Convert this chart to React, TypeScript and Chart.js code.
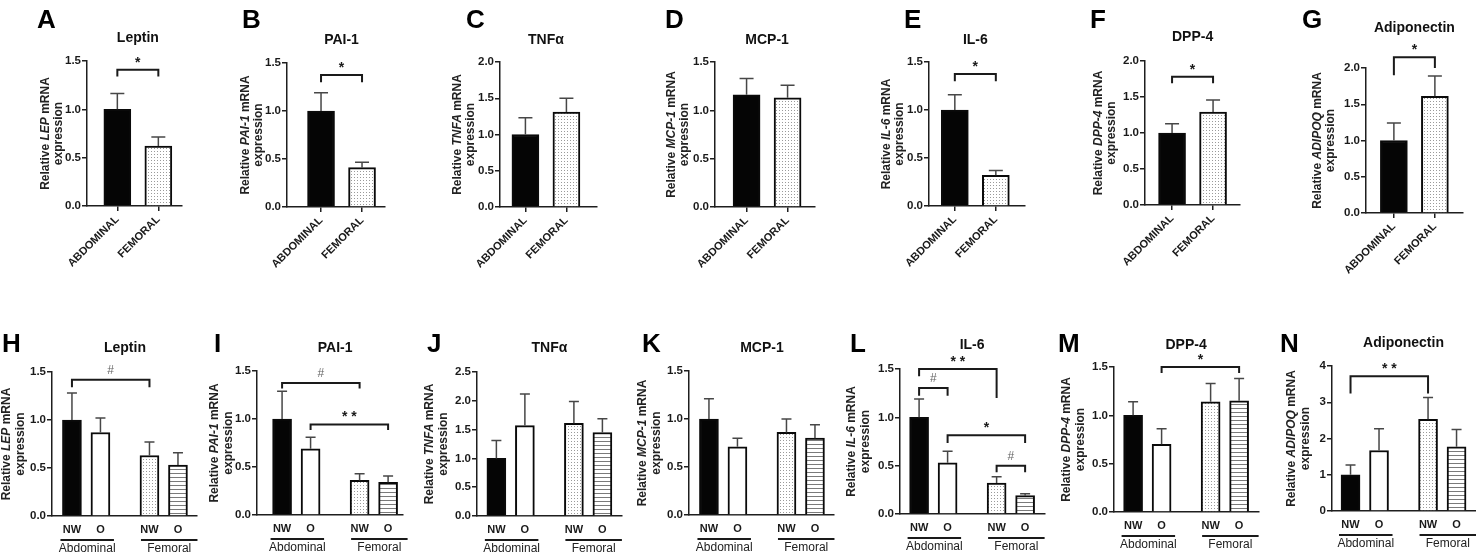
import React, { useEffect, useRef } from 'react';
import { Chart, registerables } from 'chart.js';

Chart.register(...registerables);

const FONT = "'Liberation Sans', Arial, Helvetica, sans-serif";

// ---------- categories / tick labels ----------
const depotCategories = ['ABDOMINAL', 'FEMORAL'];
const groupCategories = ['NW', 'O', 'NW', 'O'];
const groupNames = ['Abdominal', 'Femoral'];

// ---------- panels A–G (depot comparison): mean and SEM ----------
const leptinDepot = [1.0, 0.62];
const leptinDepotSem = [0.165, 0.095];
const pai1Depot = [1.0, 0.41];
const pai1DepotSem = [0.19, 0.055];
const tnfDepot = [1.0, 1.31];
const tnfDepotSem = [0.23, 0.19];
const mcp1Depot = [1.16, 1.13];
const mcp1DepotSem = [0.17, 0.13];
const il6Depot = [1.0, 0.32];
const il6DepotSem = [0.16, 0.05];
const dpp4Depot = [1.0, 1.29];
const dpp4DepotSem = [0.13, 0.17];
const adipoDepot = [1.0, 1.61];
const adipoDepotSem = [0.24, 0.28];

// ---------- panels H–N (NW / O within depot): mean and SEM ----------
const leptinGroup = [1.0, 0.87, 0.63, 0.53];
const leptinGroupSem = [0.28, 0.15, 0.14, 0.13];
const pai1Group = [1.0, 0.69, 0.36, 0.34];
const pai1GroupSem = [0.29, 0.12, 0.07, 0.065];
const tnfGroup = [1.0, 1.57, 1.61, 1.45];
const tnfGroupSem = [0.31, 0.55, 0.38, 0.24];
const mcp1Group = [1.0, 0.71, 0.86, 0.8];
const mcp1GroupSem = [0.21, 0.09, 0.14, 0.14];
const il6Group = [1.0, 0.53, 0.32, 0.19];
const il6GroupSem = [0.19, 0.12, 0.065, 0.02];
const dpp4Group = [1.0, 0.7, 1.14, 1.15];
const dpp4GroupSem = [0.14, 0.16, 0.19, 0.23];
const adipoGroup = [1.0, 1.67, 2.53, 1.77];
const adipoGroupSem = [0.27, 0.6, 0.6, 0.48];

// ---------- significance annotations (value units) ----------
const leptinDepotSig = [{ from: 0, to: 1, y: 1.41, legL: 1.34, legR: 1.34, label: '*' }];
const pai1DepotSig = [{ from: 0, to: 1, y: 1.375, legL: 1.3, legR: 1.3, label: '*' }];
const il6DepotSig = [{ from: 0, to: 1, y: 1.375, legL: 1.3, legR: 1.3, label: '*' }];
const dpp4DepotSig = [{ from: 0, to: 1, y: 1.78, legL: 1.69, legR: 1.69, label: '*' }];
const adipoDepotSig = [{ from: 0, to: 1, y: 2.15, legL: 1.9, legR: 2.0, label: '*' }];
const leptinGroupSig = [{ from: 0, to: 2, y: 1.42, legL: 1.34, legR: 1.34, label: '#' }];
const pai1GroupSig = [
  { from: 0, to: 2, y: 1.375, legL: 1.317, legR: 1.317, label: '#' },
  { from: 1, to: 3, y: 0.944, legL: 0.885, legR: 0.885, label: '* *' },
];
const il6GroupSig = [
  { from: 0, to: 2, y: 1.5, legL: 1.424, legR: 1.2, label: '* *' },
  { from: 0, to: 1, y: 1.303, legL: 1.224, legR: 1.224, label: '#' },
  { from: 1, to: 3, y: 0.814, legL: 0.734, legR: 0.734, label: '*' },
  { from: 2, to: 3, y: 0.5, legL: 0.431, legR: 0.431, label: '#' },
];
const dpp4GroupSig = [{ from: 1, to: 3, y: 1.5, legL: 1.437, legR: 1.437, label: '*' }];
const adipoGroupSig = [{ from: 0, to: 2, y: 3.72, legL: 3.24, legR: 3.24, label: '* *' }];

// ---------- axis slot positions ----------
const depotSlots = [0, 1];
const groupSlots = [0, 1, 2.72, 3.72];

type Sig = { from: number; to: number; y: number; legL: number; legR: number; label: string };
type Spec = {
  letter: string; title: string; gene: string; row: 'top' | 'bottom';
  cats: string[]; pos: number[]; values: number[]; sem: number[];
  fills: string[]; yMax: number; yStep: number; sig: Sig[];
};

const depotFills = ['black', 'dots'];
const groupFills = ['black', 'white', 'dots', 'stripes'];

const SPECS: Spec[] = [
  { letter: 'A', title: 'Leptin', gene: 'LEP', row: 'top', cats: depotCategories, pos: depotSlots, values: leptinDepot, sem: leptinDepotSem, fills: depotFills, yMax: 1.5, yStep: 0.5, sig: leptinDepotSig },
  { letter: 'B', title: 'PAI-1', gene: 'PAI-1', row: 'top', cats: depotCategories, pos: depotSlots, values: pai1Depot, sem: pai1DepotSem, fills: depotFills, yMax: 1.5, yStep: 0.5, sig: pai1DepotSig },
  { letter: 'C', title: 'TNFα', gene: 'TNFA', row: 'top', cats: depotCategories, pos: depotSlots, values: tnfDepot, sem: tnfDepotSem, fills: depotFills, yMax: 2.0, yStep: 0.5, sig: [] },
  { letter: 'D', title: 'MCP-1', gene: 'MCP-1', row: 'top', cats: depotCategories, pos: depotSlots, values: mcp1Depot, sem: mcp1DepotSem, fills: depotFills, yMax: 1.5, yStep: 0.5, sig: [] },
  { letter: 'E', title: 'IL-6', gene: 'IL-6', row: 'top', cats: depotCategories, pos: depotSlots, values: il6Depot, sem: il6DepotSem, fills: depotFills, yMax: 1.5, yStep: 0.5, sig: il6DepotSig },
  { letter: 'F', title: 'DPP-4', gene: 'DPP-4', row: 'top', cats: depotCategories, pos: depotSlots, values: dpp4Depot, sem: dpp4DepotSem, fills: depotFills, yMax: 2.0, yStep: 0.5, sig: dpp4DepotSig },
  { letter: 'G', title: 'Adiponectin', gene: 'ADIPOQ', row: 'top', cats: depotCategories, pos: depotSlots, values: adipoDepot, sem: adipoDepotSem, fills: depotFills, yMax: 2.0, yStep: 0.5, sig: adipoDepotSig },
  { letter: 'H', title: 'Leptin', gene: 'LEP', row: 'bottom', cats: groupCategories, pos: groupSlots, values: leptinGroup, sem: leptinGroupSem, fills: groupFills, yMax: 1.5, yStep: 0.5, sig: leptinGroupSig },
  { letter: 'I', title: 'PAI-1', gene: 'PAI-1', row: 'bottom', cats: groupCategories, pos: groupSlots, values: pai1Group, sem: pai1GroupSem, fills: groupFills, yMax: 1.5, yStep: 0.5, sig: pai1GroupSig },
  { letter: 'J', title: 'TNFα', gene: 'TNFA', row: 'bottom', cats: groupCategories, pos: groupSlots, values: tnfGroup, sem: tnfGroupSem, fills: groupFills, yMax: 2.5, yStep: 0.5, sig: [] },
  { letter: 'K', title: 'MCP-1', gene: 'MCP-1', row: 'bottom', cats: groupCategories, pos: groupSlots, values: mcp1Group, sem: mcp1GroupSem, fills: groupFills, yMax: 1.5, yStep: 0.5, sig: [] },
  { letter: 'L', title: 'IL-6', gene: 'IL-6', row: 'bottom', cats: groupCategories, pos: groupSlots, values: il6Group, sem: il6GroupSem, fills: groupFills, yMax: 1.5, yStep: 0.5, sig: il6GroupSig },
  { letter: 'M', title: 'DPP-4', gene: 'DPP-4', row: 'bottom', cats: groupCategories, pos: groupSlots, values: dpp4Group, sem: dpp4GroupSem, fills: groupFills, yMax: 1.5, yStep: 0.5, sig: dpp4GroupSig },
  { letter: 'N', title: 'Adiponectin', gene: 'ADIPOQ', row: 'bottom', cats: groupCategories, pos: groupSlots, values: adipoGroup, sem: adipoGroupSem, fills: groupFills, yMax: 4, yStep: 1, sig: adipoGroupSig },
];

// ---------- layout (page pixels) ----------
type Lay = { L: number; T: number; B: number; W: number; xMin: number; lx: number; ly: number; ty: number; yl: number };
const LAYOUT: Lay[] = [
  { L: 87, T: 61, B: 206, W: 95, xMin: -0.74, lx: 37, ly: 18, ty: 38, yl: 41 },
  { L: 287, T: 63, B: 207, W: 98, xMin: -0.83, lx: 242, ly: 18, ty: 40, yl: 41 },
  { L: 500, T: 62, B: 207, W: 97, xMin: -0.62, lx: 466, ly: 18, ty: 40, yl: 42 },
  { L: 715, T: 62, B: 207, W: 100, xMin: -0.77, lx: 665, ly: 18, ty: 40, yl: 43 },
  { L: 929, T: 62, B: 206, W: 96, xMin: -0.63, lx: 904, ly: 18, ty: 40, yl: 42 },
  { L: 1145, T: 61, B: 205, W: 95, xMin: -0.66, lx: 1090, ly: 18, ty: 37, yl: 46 },
  { L: 1366, T: 68, B: 213, W: 97, xMin: -0.68, lx: 1302, ly: 18, ty: 28, yl: 48 },
  { L: 52, T: 372, B: 516, W: 145, xMin: -0.7, lx: 2, ly: 342, ty: 348, yl: 45 },
  { L: 257, T: 371, B: 515, W: 146, xMin: -0.88, lx: 214, ly: 342, ty: 348, yl: 42 },
  { L: 477, T: 372, B: 516, W: 145, xMin: -0.68, lx: 427, ly: 342, ty: 348, yl: 47 },
  { L: 689, T: 371, B: 515, W: 145, xMin: -0.7, lx: 642, ly: 342, ty: 348, yl: 46 },
  { L: 900, T: 369, B: 514, W: 145, xMin: -0.67, lx: 850, ly: 342, ty: 345, yl: 48 },
  { L: 1114, T: 367, B: 512, W: 145, xMin: -0.67, lx: 1058, ly: 342, ty: 345, yl: 47 },
  { L: 1332, T: 366, B: 511, W: 145, xMin: -0.65, lx: 1280, ly: 342, ty: 343, yl: 40 },
];

const SLOT_PX = { top: 41, bottom: 28.5 };
const BAR_PX = { top: 27, bottom: 19 };
const CAP_PX = { top: 14, bottom: 10 };
const XH_PX = { top: 66, bottom: 32 };

const PAD_L = 72, PAD_T = 64, PAD_R = 16, PAD_B = 72;
const YW = 32;

const AXIS = '#1e1e1e';
const INK = '#1a1a1a';

function makeFill(kind: string, ctx: CanvasRenderingContext2D): any {
  if (kind === 'black') return '#050505';
  if (kind === 'white') return '#ffffff';
  const t = document.createElement('canvas');
  const g = t.getContext('2d') as CanvasRenderingContext2D;
  if (kind === 'dots') {
    t.width = 3; t.height = 3;
    g.fillStyle = '#ffffff'; g.fillRect(0, 0, 3, 3);
    g.fillStyle = '#9a9a9a'; g.fillRect(1, 1, 1, 1);
  } else {
    t.width = 4; t.height = 4;
    g.fillStyle = '#ffffff'; g.fillRect(0, 0, 4, 4);
    g.fillStyle = '#7a7a7a'; g.fillRect(0, 1, 4, 1);
  }
  return ctx.createPattern(t, 'repeat');
}

function drawRotatedRich(ctx: CanvasRenderingContext2D, parts: { t: string; it?: boolean }[], cx: number, cy: number, size: number) {
  ctx.save();
  ctx.translate(cx, cy);
  ctx.rotate(-Math.PI / 2);
  ctx.textBaseline = 'middle';
  ctx.textAlign = 'left';
  const fonts = parts.map((p) => `${p.it ? 'italic ' : ''}bold ${size}px ${FONT}`);
  const widths = parts.map((p, i) => { ctx.font = fonts[i]; return ctx.measureText(p.t).width; });
  const total = widths.reduce((a, b) => a + b, 0);
  let xx = -total / 2;
  parts.forEach((p, i) => {
    ctx.font = fonts[i];
    ctx.fillText(p.t, xx, 0);
    xx += widths[i];
  });
  ctx.restore();
}

function makeExtras(spec: Spec, lay: Lay, offX: number, offY: number) {
  const row = spec.row;
  return {
    id: 'extras',
    afterDraw(chart: any) {
      const ctx: CanvasRenderingContext2D = chart.ctx;
      const ca = chart.chartArea;
      const xs = chart.scales.x;
      const ys = chart.scales.y;
      const px = (i: number) => xs.getPixelForValue(spec.pos[i]);
      ctx.save();

      // error bars (upper SEM)
      ctx.strokeStyle = '#474747';
      ctx.lineWidth = 1.5;
      const cap = CAP_PX[row];
      spec.values.forEach((v, i) => {
        const cx = px(i);
        const y0 = ys.getPixelForValue(v);
        const y1 = ys.getPixelForValue(v + spec.sem[i]);
        ctx.beginPath();
        ctx.moveTo(cx, y0);
        ctx.lineTo(cx, y1);
        ctx.moveTo(cx - cap / 2, y1);
        ctx.lineTo(cx + cap / 2, y1);
        ctx.stroke();
      });

      // significance brackets
      spec.sig.forEach((s) => {
        const x1 = px(s.from), x2 = px(s.to);
        const yh = ys.getPixelForValue(s.y);
        ctx.strokeStyle = INK;
        ctx.lineWidth = 2;
        ctx.beginPath();
        ctx.moveTo(x1, ys.getPixelForValue(s.legL));
        ctx.lineTo(x1, yh);
        ctx.lineTo(x2, yh);
        ctx.lineTo(x2, ys.getPixelForValue(s.legR));
        ctx.stroke();
        ctx.textAlign = 'center';
        ctx.textBaseline = 'alphabetic';
        if (s.label === '#') {
          ctx.font = `12px ${FONT}`;
          ctx.fillStyle = '#666';
          ctx.fillText('#', (x1 + x2) / 2, yh - 6);
        } else {
          ctx.font = `bold 14px ${FONT}`;
          ctx.fillStyle = INK;
          ctx.fillText(s.label, (x1 + x2) / 2, yh - 3);
        }
      });

      // title centred over the bars
      const tx = (px(0) + px(spec.pos.length - 1)) / 2;
      ctx.fillStyle = '#111';
      ctx.font = `bold 14px ${FONT}`;
      ctx.textAlign = 'center';
      ctx.textBaseline = 'middle';
      ctx.fillText(spec.title, tx, lay.ty - offY);

      // panel letter
      ctx.font = `bold 26px ${FONT}`;
      ctx.textAlign = 'left';
      ctx.textBaseline = 'alphabetic';
      ctx.fillStyle = '#000';
      ctx.fillText(spec.letter, lay.lx - offX, lay.ly - offY + 9.5);

      // y-axis title (two lines, gene in italics)
      ctx.fillStyle = '#222';
      const cy = (ca.top + ca.bottom) / 2;
      const x1 = ca.left - lay.yl;
      const gap = row === 'top' ? 12.5 : 14;
      drawRotatedRich(ctx, [{ t: 'Relative ' }, { t: spec.gene, it: true }, { t: ' mRNA' }], x1, cy, 12);
      drawRotatedRich(ctx, [{ t: 'expression' }], x1 + gap, cy, 12);

      // group lines + labels (bottom row)
      if (row === 'bottom') {
        const hb = BAR_PX.bottom / 2;
        const ly = ca.bottom + 24;
        const groups = [
          { a: px(0) - hb - 2, b: px(1) + hb + 4, name: groupNames[0] },
          { a: px(2) - hb + 1, b: px(3) + hb + 10, name: groupNames[1] },
        ];
        groups.forEach((g) => {
          ctx.strokeStyle = INK;
          ctx.lineWidth = 2;
          ctx.beginPath();
          ctx.moveTo(g.a, ly);
          ctx.lineTo(g.b, ly);
          ctx.stroke();
          ctx.fillStyle = '#222';
          ctx.font = `12px ${FONT}`;
          ctx.textAlign = 'center';
          ctx.textBaseline = 'middle';
          ctx.fillText(g.name, (g.a + g.b) / 2, ly + 9);
        });
      }
      ctx.restore();
    },
  };
}

function Panel({ spec, lay }: { spec: Spec; lay: Lay }) {
  const ref = useRef<HTMLCanvasElement>(null);
  const cw = lay.W + PAD_L + PAD_R;
  const ch = lay.B - lay.T + PAD_T + PAD_B;
  const left = lay.L - PAD_L;
  const top = lay.T - PAD_T;

  useEffect(() => {
    const canvas = ref.current as HTMLCanvasElement;
    const ctx = canvas.getContext('2d') as CanvasRenderingContext2D;
    const isTop = spec.row === 'top';
    const XH = XH_PX[spec.row];
    const xMax = lay.xMin + lay.W / SLOT_PX[spec.row];
    const fills = spec.fills.map((f) => makeFill(f, ctx));
    const chart = new Chart(canvas, {
      type: 'bar',
      data: {
        datasets: [
          {
            data: spec.values.map((v, i) => ({ x: spec.pos[i], y: v })),
            backgroundColor: fills,
            borderColor: '#0a0a0a',
            borderWidth: 2,
            borderSkipped: 'start',
            barThickness: BAR_PX[spec.row],
          } as any,
        ],
      },
      options: {
        animation: false,
        responsive: false,
        devicePixelRatio: 1,
        events: [],
        layout: { padding: { left: PAD_L - YW, top: PAD_T, right: PAD_R, bottom: PAD_B - XH } },
        plugins: { legend: { display: false }, tooltip: { enabled: false }, title: { display: false } },
        scales: {
          x: {
            type: 'linear',
            min: lay.xMin,
            max: xMax,
            offset: false,
            afterBuildTicks: (s: any) => { s.ticks = spec.pos.map((v) => ({ value: v })); },
            afterFit: (s: any) => { s.height = XH; s.paddingLeft = 0; s.paddingRight = 0; },
            ticks: {
              autoSkip: false,
              callback: (_v: any, i: number) => spec.cats[i],
              font: { family: FONT, size: 11, weight: 'bold' },
              color: '#1a1a1a',
              padding: isTop ? 2 : 7,
              minRotation: isTop ? 45 : 0,
              maxRotation: isTop ? 45 : 0,
            },
            grid: { display: true, drawOnChartArea: false, drawTicks: isTop, tickLength: 5, color: AXIS, lineWidth: 1.5, offset: false },
            border: { display: true, color: AXIS, width: 1.5 },
          } as any,
          y: {
            type: 'linear',
            min: 0,
            max: spec.yMax,
            afterFit: (s: any) => { s.width = YW; s.paddingTop = 0; s.paddingBottom = 0; },
            ticks: {
              stepSize: spec.yStep,
              callback: (v: any) => (spec.yStep < 1 ? Number(v).toFixed(1) : String(Math.round(Number(v)))),
              font: { family: FONT, size: 11.5, weight: 'bold' },
              color: '#1a1a1a',
              padding: 1,
            },
            grid: { display: true, drawOnChartArea: false, drawTicks: true, tickLength: 5, color: AXIS, lineWidth: 1.5 },
            border: { display: true, color: AXIS, width: 1.5 },
          } as any,
        },
      },
      plugins: [makeExtras(spec, lay, left, top)],
    });
    return () => chart.destroy();
  }, []);

  return (
    <canvas
      ref={ref}
      width={cw}
      height={ch}
      style={{ position: 'absolute', left, top, width: cw, height: ch }}
    />
  );
}

export default function App() {
  return (
    <div
      style={{
        position: 'fixed',
        left: 0,
        top: 0,
        width: 1476,
        height: 558,
        overflow: 'hidden',
        background: '#ffffff',
      }}
    >
      {SPECS.map((s, i) => (
        <Panel key={s.letter} spec={s} lay={LAYOUT[i]} />
      ))}
    </div>
  );
}
